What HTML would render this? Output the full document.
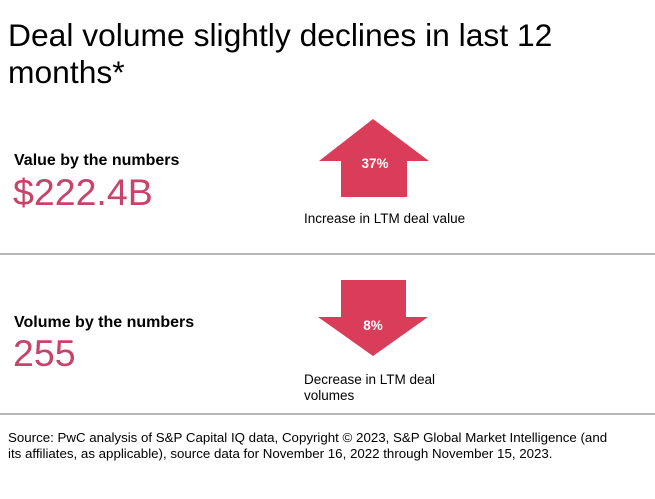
<!DOCTYPE html>
<html><head><meta charset="utf-8"><style>
html,body{margin:0;padding:0;background:#fff;}
svg{display:block;font-family:"Liberation Sans",Arial,sans-serif;}
</style></head><body>
<svg width="655" height="499" viewBox="0 0 655 499" xmlns="http://www.w3.org/2000/svg">
<rect width="655" height="499" fill="#fff"/>
<text x="8" y="46" font-size="31.8" fill="#000">Deal volume slightly declines in last 12</text>
<text x="8" y="83" font-size="31.8" fill="#000">months*</text>
<text x="14" y="165" font-size="16" font-weight="bold" fill="#000">Value by the numbers</text>
<text x="13" y="205" font-size="37.5" fill="#c8436a">$222.4B</text>
<polygon points="373,119 429,161 407,161 407,197 341,197 341,161 319,161" fill="#d93d5a"/>
<text x="375" y="168" font-size="13.5" font-weight="bold" fill="#fff" text-anchor="middle">37%</text>
<text x="304" y="223" font-size="13.5" fill="#000">Increase in LTM deal value</text>
<line x1="0" y1="254" x2="655" y2="254" stroke="#a0a0a0" stroke-width="1.5"/>
<text x="14" y="327" font-size="16" font-weight="bold" fill="#000">Volume by the numbers</text>
<text x="13" y="366" font-size="37.5" fill="#c8436a">255</text>
<polygon points="341,280 406,280 406,317 428,317 373,356 318,317 341,317" fill="#d93d5a"/>
<text x="373" y="330" font-size="13.5" font-weight="bold" fill="#fff" text-anchor="middle">8%</text>
<text x="304" y="384" font-size="13.5" fill="#000">Decrease in LTM deal</text>
<text x="304" y="400" font-size="13.5" fill="#000">volumes</text>
<line x1="0" y1="414" x2="655" y2="414" stroke="#a0a0a0" stroke-width="1.5"/>
<text x="8" y="442" font-size="13.3" fill="#000">Source: PwC analysis of S&amp;P Capital IQ data, Copyright © 2023, S&amp;P Global Market Intelligence (and</text>
<text x="8" y="458" font-size="13.3" fill="#000">its affiliates, as applicable), source data for November 16, 2022 through November 15, 2023.</text>
</svg>
</body></html>
